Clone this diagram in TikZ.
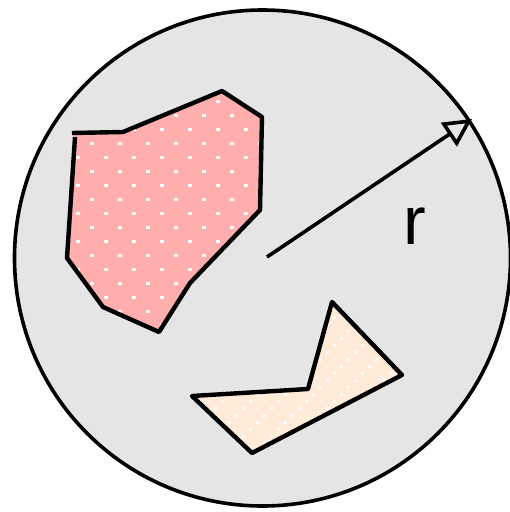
\documentclass[tikz,border=0pt]{standalone}
\usepackage{fontspec}
\setmainfont{Liberation Sans}
\usetikzlibrary{arrows.meta}
\definecolor{bggray}{HTML}{E5E5E5}
\definecolor{pinkfill}{HTML}{FFAEAE}
\definecolor{orangefill}{HTML}{FFEBD7}
\tikzset{
  outline/.style={line width=4.4pt, line join=round},
}
\begin{document}
\begin{tikzpicture}[x=1pt,y=-1pt]
\useasboundingbox (0,0) rectangle (510,512);
% big circle
\node[circle, draw, line width=3.6pt, fill=bggray, minimum size=496pt, inner sep=0pt] (disk) at (262.5,258) {};
% pink polygon
\begin{scope}
  \clip (72,133) -- (123,132) -- (222,91) -- (262,117) -- (260,210) -- (190,283) -- (159,332) -- (103,307) -- (67,258) -- (75,137) -- cycle;
  \fill[pinkfill] (60,80) rectangle (280,340);
  \foreach \i in {0,...,7} {
    \foreach \j in {-2,...,7} {
      \fill[white] ({92+28*\i-1.6},{143.3+28*\j-1.6}) rectangle ++(3.3,3.3);
      \fill[white] ({78+28*\i-1.6},{157.3+28*\j-1.6}) rectangle ++(3.3,3.3);
    }
  }
\end{scope}
\draw[outline] (72,133) -- (123,132) -- (222,91) -- (262,117) -- (260,210) -- (190,283) -- (159,332) -- (103,307) -- (67,258) -- (75,137);
% orange polygon
\begin{scope}
  \clip (332,302) -- (402,375) -- (252,453) -- (192,396) -- (308,389) -- cycle;
  \fill[orangefill] (180,290) rectangle (420,470);
  \foreach \m in {-16,...,9} {
    \foreach \k in {-3,...,10} {
      \fill[white] ({222.3+28*\k-7*\m-1.6},{401.7+7*\m-1.6}) rectangle ++(3.3,3.3);
    }
  }
\end{scope}
\draw[outline] (332,302) -- (402,375) -- (252,453) -- (192,396) -- (308,389) -- cycle;
% radius arrow
\coordinate (c) at (267,257);
\coordinate (e) at (472,119);
\draw[line width=3.6pt, -{Triangle[open, length=28pt, width=28pt, line width=3.6pt]}] (c) -- (e);
\node[anchor=base, inner sep=0pt, font=\fontsize{68}{68}\selectfont] (r) at (415,244) {r};
\end{tikzpicture}
\end{document}
